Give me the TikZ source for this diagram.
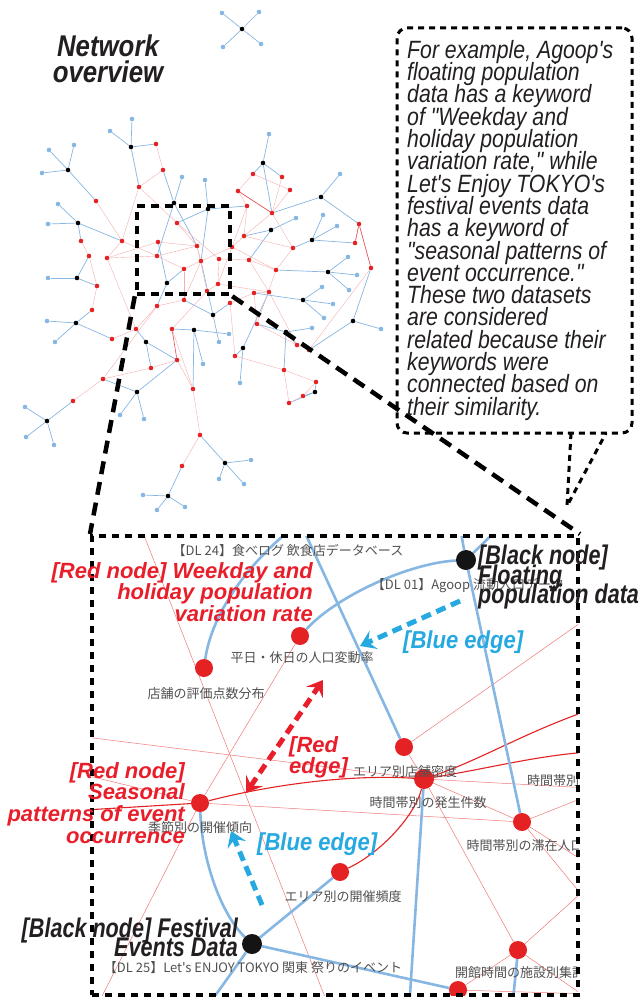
\documentclass[tikz,border=0pt]{standalone}
\usepackage{fontspec}
\setmainfont{Liberation Sans}
\newfontfamily\narrowfont[FakeStretch=0.8]{Liberation Sans}
\newfontfamily\notefont[FakeStretch=0.85]{Liberation Sans}
\newfontfamily\edgefont[FakeStretch=0.9]{Liberation Sans}
\newfontfamily\titlefont[FakeStretch=0.86]{Liberation Sans}
\newfontfamily\jpfont{Noto Sans CJK JP}
\usetikzlibrary{arrows.meta, positioning}
\definecolor{netblue}{RGB}{134,182,226}
\definecolor{netred}{RGB}{228,34,36}
\definecolor{netpink}{RGB}{240,120,120}
\definecolor{hintcyan}{RGB}{38,169,224}
\definecolor{hintred}{RGB}{232,30,42}
\definecolor{kwgray}{RGB}{80,80,80}
\definecolor{inkblack}{RGB}{35,31,32}
\pgfdeclarelayer{bg}
\pgfsetlayers{bg,main}
\lineskiplimit=-100pt

\begin{document}
\begin{tikzpicture}[x=1pt, y=-1pt,
    ovdot/.style={circle, inner sep=0pt, minimum size=4.6pt},
    ovblack/.style={ovdot, fill=black},
    ovred/.style={ovdot, fill=netred},
    ovleaf/.style={ovdot, fill=netblue},
    ovlink/.style={netblue, line width=0.7pt},
    ovsim/.style={netpink!60, line width=0.4pt},
    kwdot/.style={circle, inner sep=0pt, minimum size=18pt, fill=netred},
    dsdot/.style={circle, inner sep=0pt, minimum size=20pt, fill=black!92},
    dslink/.style={netblue, line width=2.6pt},
    simthin/.style={netpink, line width=0.5pt},
    simthick/.style={netred, line width=1.1pt},
    kwlabel/.style={font=\jpfont\fontsize{13}{15}\selectfont, text=kwgray, inner sep=0pt},
    redtag/.style={font={\bfseries\itshape\fontsize{22}{21.7}\selectfont\lineskiplimit=-100pt}, text=hintred, inner sep=0pt},
    blacktag/.style={font={\narrowfont\bfseries\itshape\fontsize{27}{19.5}\selectfont\lineskiplimit=-100pt}, text=inkblack, inner sep=0pt},
    bluetag/.style={font=\edgefont\bfseries\itshape\fontsize{24.5}{22}\selectfont, text=hintcyan, inner sep=0pt},
    notetext/.style={font={\notefont\itshape\fontsize{25}{22.3}\selectfont\lineskiplimit=-100pt}, text=inkblack, align=left, inner sep=0pt},
    hintline/.style={line width=5pt, dash pattern=on 10pt off 6pt},
    zoomframe/.style={draw, line width=4pt, dash pattern=on 7pt off 6pt, inner sep=0pt},
    ovframe/.style={draw, line width=4.5pt, dash pattern=on 8pt off 6pt, inner sep=0pt},
    leadline/.style={line width=4.5pt, dash pattern=on 13pt off 8pt},
    noteborder/.style={line width=3pt, dash pattern=on 6pt off 5pt}]
\useasboundingbox (0,0) rectangle (642,998);

% overview network
\foreach \n/\x/\y in {1/242/29,2/131/147,3/68/170,4/78/223,5/77/278,6/76/323,7/167/283,8/174/203,9/208/209,10/263/163,11/321/197,12/271/230,13/312/240,14/328/272,15/303/300,16/213/315,17/194/330,18/286/332,19/353/321,20/243/348,21/146/342,22/315/392,23/137/392,24/47/421,25/225/463,26/168/496}
  \node[ovblack] (b\n) at (\x,\y) {};
\foreach \n/\x/\y in {1/156/144,2/163/170,3/139/187,4/96/201,5/253/174,6/282/177,7/238/191,8/290/190,9/272/213,10/247/206,11/177/223,12/158/242,13/122/241,14/81/241,15/107/258,16/89/256,17/97/286,18/92/310,19/157/256,20/197/246,21/201/261,22/232/247,23/244/236,24/219/259,25/249/260,26/293/248,27/184/269,28/218/284,29/207/291,30/276/270,31/269/292,32/254/293,33/230/303,34/184/300,35/157/306,36/359/224,37/355/243,38/371/268,39/257/324,40/172/329,41/136/329,42/112/339,43/177/360,44/151/368,45/235/356,46/284/370,47/309/350,48/297/345,49/316/382,50/303/396,51/289/403,52/103/379,53/73/401,54/200/435,55/182/466,56/193/389}
  \node[ovred] (r\n) at (\x,\y) {};
\foreach \n/\x/\y in {1/222/13,2/259/12,3/223/47,4/261/44,5/132/119,6/110/131,7/74/145,8/49/150,9/42/173,10/58/204,11/48/224,12/48/278,13/47/321,14/55/342,15/182/177,16/205/180,17/269/134,18/340/174,19/296/218,20/323/215,21/337/226,22/348/257,23/357/275,24/349/290,25/322/287,26/333/304,27/324/318,28/312/328,29/381/329,30/229/334,31/219/342,32/203/364,33/240/383,34/120/415,35/144/419,36/25/407,37/26/437,38/54/445,39/251/460,40/219/479,41/244/484,42/143/495,43/185/507,44/157/510}
  \node[ovleaf] (l\n) at (\x,\y) {};

\begin{pgfonlayer}{bg}
\foreach \a/\b in {b1/l1,b1/l2,b1/l3,b1/l4,b2/l5,b2/l6,b2/r1,b2/r3,b3/l7,b3/l8,b3/l9,b3/r4,b4/l10,b4/l11,b4/r13,b4/r14,b5/l12,b5/r16,b5/r17,b6/l13,b6/l14,b6/r18,b6/r42,b7/r12,b7/r27,b7/r35,b8/l15,b8/r2,b8/r19,b8/r20,b9/l16,b9/r11,b9/r21,b9/r10,b10/l17,b10/r5,b10/r6,b10/r9,b11/l18,b11/r9,b11/r36,b12/l19,b12/r23,b12/r25,b13/l20,b13/l21,b13/r37,b13/r26,b14/l22,b14/l23,b14/l24,b14/r30,b15/l25,b15/l26,b15/l27,b15/r32,b16/r21,b16/r33,b16/r34,b16/l31,b17/l30,b17/l32,b17/r40,b17/r56,b18/l28,b18/r39,b18/r48,b18/r46,b19/l29,b19/r47,b19/r38,b20/l33,b20/r45,b20/r31,b21/r41,b21/r44,b21/r43,b22/r49,b22/r50,b22/r51,b23/l34,b23/l35,b23/r52,b23/r43,b24/l36,b24/l37,b24/l38,b24/r53,b25/l39,b25/l40,b25/l41,b25/r54,b26/l42,b26/l43,b26/l44,b26/r55}
  \draw[ovlink] (\a) -- (\b);
\foreach \a/\b in {r1/r2,r2/r3,r3/r13,r4/r13,r13/r15,r14/r16,r15/r19,r13/r19,r19/r20,r20/r21,r21/r22,r22/r23,r23/r10,r10/r7,r7/r5,r7/r9,r5/r8,r6/r9,r8/r9,r9/r26,r25/r30,r25/r24,r24/r11,r11/r20,r12/r15,r16/r17,r17/r18,r19/r27,r27/r34,r34/r35,r35/r41,r29/r28,r28/r31,r31/r32,r32/r39,r33/r45,r30/r39,r26/r30,r29/r40,r40/r56,r56/r43,r43/r44,r44/r52,r52/r53,r54/r56,r54/r55,r45/r46,r46/r49,r49/r50,r50/r51,r51/r46,r47/r48,r48/r39,r37/r36,r36/r38,r22/r28,r20/r29,r21/r34,r25/r31,r12/r20,r15/r41,r41/r42,r23/r26,r33/r32,r10/r22,r24/r28,r35/r52,r38/r47,r23/r9,r22/r30,r11/r3,r27/r21,r31/r48}
  \draw[ovsim] (\a) -- (\b);
\draw[netred!80, line width=0.6pt] (r7) -- (r9) (r36) -- (r38) (r37) -- (r36) (r40) -- (r43);
\end{pgfonlayer}

\node[font=\titlefont\bfseries\itshape\fontsize{30}{26}\selectfont, text=inkblack, align=center, inner sep=0pt, anchor=north] (title) at (108,35) {Network\\overview};

% zoomed part
\begin{scope}
\clip (92,536) rectangle (578,995);
\node[dsdot] (agoop) at (466,560) {};
\node[dsdot] (fest) at (252,944) {};
\node[kwdot] (wkday) at (300,636) {};
\node[kwdot] (rating) at (204,668) {};
\node[kwdot] (density) at (404,747) {};
\node[kwdot] (season) at (200,803) {};
\node[kwdot, minimum size=20pt] (count) at (424,779) {};
\node[kwdot] (stay) at (522,822) {};
\node[kwdot] (freq) at (340,872) {};
\node[kwdot] (hours) at (518,950) {};
\node[kwdot] (foot) at (458,990) {};
\node[kwlabel] (dl24lbl) at (288,551) {【DL 24】食べログ 飲食店データベース};
\node[kwlabel] (agooplbl) at (468,586) {【DL 01】Agoop 流動人口データ};
\node[kwlabel] (wkdaylbl) at (302,658) {平日・休日の人口変動率};
\node[kwlabel] (ratinglbl) at (206,694) {店舗の評価点数分布};
\node[kwlabel] (densitylbl) at (405,772) {エリア別店舗密度};
\node[kwlabel, anchor=west] (slotlbl) at (527,781) {時間帯別};
\node[kwlabel] (countlbl) at (428,803) {時間帯別の発生件数};
\node[kwlabel] (seasonlbl) at (200,828) {季節別の開催傾向};
\node[kwlabel] (staylbl) at (525,846) {時間帯別の滞在人口};
\node[kwlabel] (freqlbl) at (343,897) {エリア別の開催頻度};
\node[kwlabel] (festlbl) at (253,968) {【DL 25】Let's ENJOY TOKYO 関東 祭りのイベント};
\node[kwlabel] (hourslbl) at (520,973) {開館時間の施設別集計};
\end{scope}

\coordinate (dl24) at (300,522);
\coordinate (agoopup) at (505,522);
\coordinate (agooptop) at (459,522);
\coordinate (festdown) at (205,1010);
\coordinate (countdown) at (409,1010);
\coordinate (hoursdown) at (512,1010);
\coordinate (w1) at (85,737);
\coordinate (w2) at (85,775);
\coordinate (w3) at (85,810);
\coordinate (n1) at (138,520);
\coordinate (s1) at (330,1010);
\coordinate (s2) at (95,1010);
\coordinate (e1) at (590,616);
\coordinate (e2) at (590,788);
\coordinate (e3) at (590,795);
\coordinate (e4) at (590,865);
\coordinate (e5) at (590,905);
\coordinate (e6) at (590,885);
\coordinate (e7) at (590,1000);
\coordinate (e8) at (590,994);
\coordinate (e9) at (590,710);
\coordinate (e10) at (590,752);

\begin{pgfonlayer}{bg}
\begin{scope}
\clip (92,536) rectangle (578,995);
\draw[simthin] (w1) -- (count);
\draw[simthin] (n1) -- (s1);
\draw[simthin] (wkday) -- (season);
\draw[simthin] (density) -- (e1);
\draw[simthin] (density) -- (count);
\draw[simthin] (season) -- (stay);
\draw[simthin] (season) -- (w2);
\draw[simthin] (season) -- (s2);
\draw[simthin] (count) -- (stay);
\draw[simthin] (count) -- (hours);
\draw[simthin] (count) -- (e2);
\draw[simthin] (stay) -- (e3);
\draw[simthin] (stay) -- (e4);
\draw[simthin] (stay) -- (e5);
\draw[simthin] (hours) -- (e6);
\draw[simthin] (hours) -- (e7);
\draw[simthin] (hours) -- (foot);
\draw[simthin] (foot) -- (e8);
\draw[simthick] (season) -- (w3);
\draw[simthick] (season) .. controls (270,785) and (350,774) .. (count);
\draw[simthick] (count) .. controls (415,815) and (382,852) .. (freq);
\draw[simthick] (count) .. controls (480,760) and (530,730) .. (e9);
\draw[simthick] (count) .. controls (490,768) and (540,755) .. (e10);
\draw[dslink] (agoop) .. controls (410,563) and (338,595) .. (wkday);
\draw[dslink] (agoop) -- (agoopup);
\draw[dslink] (agooptop) -- (agoop) -- (stay);
\draw[dslink] (dl24) .. controls (250,560) and (212,612) .. (rating);
\draw[dslink] (dl24) -- (density);
\draw[dslink] (fest) .. controls (222,915) and (202,862) .. (season);
\draw[dslink] (fest) -- (freq);
\draw[dslink] (fest) -- (foot);
\draw[dslink] (fest) -- (festdown);
\draw[dslink] (count) -- (countdown);
\draw[dslink] (hours) -- (hoursdown);
\end{scope}
\end{pgfonlayer}

\node[zoomframe, minimum width=486pt, minimum height=459pt] (zoomwin) at (335,765.5) {};
\node[ovframe, minimum width=93pt, minimum height=88pt] (ovwin) at (183.5,250) {};
\draw[leadline] (ovwin.south west) -- (zoomwin.north west);
\draw[leadline] (ovwin.south east) -- (zoomwin.north east);

% callout
\node[draw, noteborder, rounded corners=10pt, minimum width=235pt, minimum height=405pt, inner sep=0pt] (callout) at (514.5,230.5) {};
\coordinate (tip) at (567,506);
\draw[noteborder] (571,433) -- (tip) -- (606,433);
\node[notetext, anchor=north west] (note) at (407,40) {For example, Agoop's\\floating population\\data has a keyword\\of "Weekday and\\holiday population\\variation rate," while\\Let's Enjoy TOKYO's\\festival events data\\has a keyword of\\"seasonal patterns of\\event occurrence."\\These two datasets\\are considered\\related because their\\keywords were\\connected based on\\their similarity.};

% annotations
\draw[hintline, hintcyan, -{Stealth[length=15pt, width=20pt, inset=6pt]}] (460,601) -- (360,646);
\draw[hintline, hintred, {Stealth[length=15pt, width=20pt, inset=6pt]}-{Stealth[length=15pt, width=20pt, inset=6pt]}] (246,793) -- (323,680);
\draw[hintline, hintcyan, -{Stealth[length=15pt, width=20pt, inset=6pt]}] (262,905) -- (231,831);
\node[bluetag, anchor=base west] (bluetagA) at (403,648) {[Blue edge]};
\node[bluetag, anchor=base west] (bluetagB) at (257,850) {[Blue edge]};
\node[redtag, align=left, anchor=north west] (redtagE) at (289,736) {[Red\\edge]};
\node[redtag, align=right, anchor=north east] (redtagW) at (313,562) {[Red node] Weekday and\\holiday population\\variation rate};
\node[redtag, align=right, anchor=north east] (redtagS) at (185,762) {[Red node]\\Seasonal\\patterns of event\\occurrence};
\node[blacktag, align=left, anchor=north west] (blacktagA) at (478,545) {[Black node]\\Floating\\population data};
\node[blacktag, align=right, anchor=north east, font={\narrowfont\bfseries\itshape\fontsize{27}{19}\selectfont\lineskiplimit=-100pt}] (blacktagF) at (238,918) {[Black node] Festival\\Events Data};
\end{tikzpicture}
\end{document}
